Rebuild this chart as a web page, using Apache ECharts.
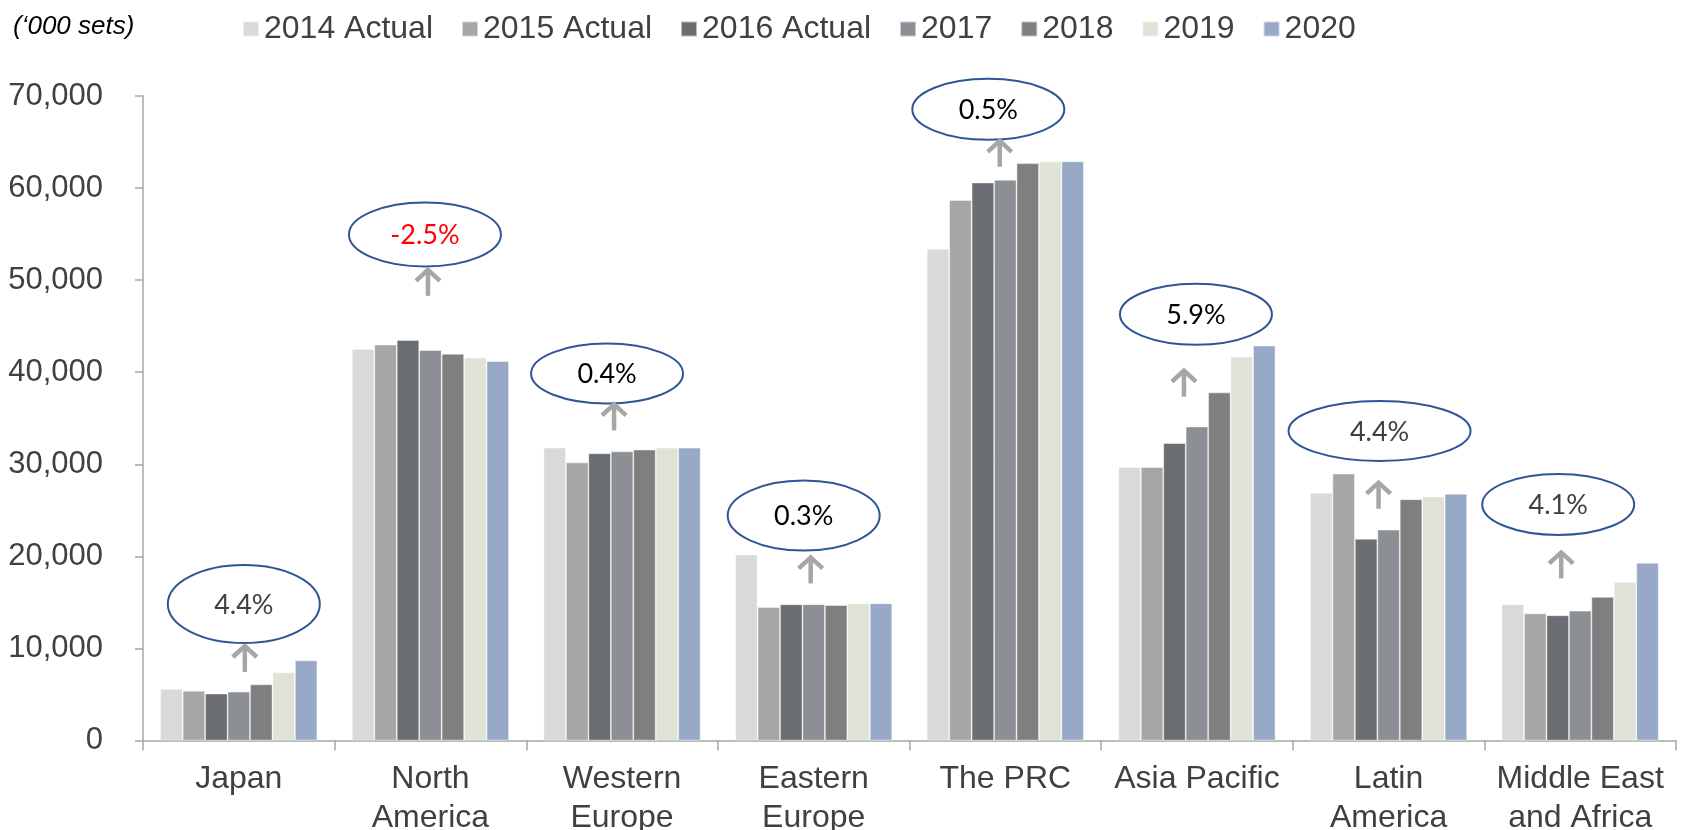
<!DOCTYPE html>
<html>
<head>
<meta charset="utf-8">
<script src="https://cdn.jsdelivr.net/npm/echarts@6/dist/echarts.min.js"></script>
<style>
  html, body { margin: 0; padding: 0; background: #ffffff; }
  #chart { width: 1686px; height: 830px; }
</style>
</head>
<body>
<div id="chart"></div>
<script>
// ---- data ----
const categories = ['Japan', 'North\nAmerica', 'Western\nEurope', 'Eastern\nEurope', 'The PRC', 'Asia Pacific', 'Latin\nAmerica', 'Middle East\nand Africa'];
const seriesNames = ['2014 Actual', '2015 Actual', '2016 Actual', '2017', '2018', '2019', '2020'];
const v2014 = [5600, 42500, 31800, 20200, 53400, 29700, 26900, 14800];
const v2015 = [5400, 43000, 30200, 14500, 58700, 29700, 29000, 13800];
const v2016 = [5100, 43500, 31200, 14800, 60600, 32300, 21900, 13600];
const v2017 = [5300, 42400, 31400, 14800, 60900, 34100, 22900, 14100];
const v2018 = [6100, 42000, 31600, 14700, 62700, 37800, 26200, 15600];
const v2019 = [7400, 41600, 31800, 14900, 62900, 41700, 26500, 17200];
const v2020 = [8700, 41200, 31800, 14900, 62900, 42900, 26800, 19300];
const growthLabels = ['4.4%', '-2.5%', '0.4%', '0.3%', '0.5%', '5.9%', '4.4%', '4.1%'];
const yTicks = [0, 10000, 20000, 30000, 40000, 50000, 60000, 70000];

// ---- styling / callout layout ----
const seriesColors = ['#D9D9D9', '#A6A6A6', '#6A6D72', '#8C8F93', '#7F7F7F', '#DFE2D6', '#98A9C7'];
const growthColors = ['#404040', '#FF0000', '#000000', '#000000', '#000000', '#000000', '#404040', '#404040'];
const calloutLayout = {
  ellipseY: [14830, 54955, 39852, 24424, 68557, 46284, 33626, 25641],
  arrowTopY: [10376, 51228, 36614, 19991, 65243, 40276, 28107, 20534],
  ellipseDx: [5, -5.5, -15, -10, -17, -1, -9, -22],
  arrowDx: [6, -2.5, -8, -3, -5.6, -13, -10, -19],
  rx: [76, 76, 76, 76, 76, 76, 91, 76],
  ry: [39, 32, 30, 35, 30.5, 30.5, 30, 30.5]
};

const allValues = [v2014, v2015, v2016, v2017, v2018, v2019, v2020];
const chart = echarts.init(document.getElementById('chart'), null, { renderer: 'canvas' });

const barSeries = seriesNames.map((name, k) => ({
  name: name,
  type: 'bar',
  data: allValues[k],
  barGap: '0%',
  barCategoryGap: '18%',
  itemStyle: { color: seriesColors[k], borderColor: 'rgba(255,255,255,0.55)', borderWidth: 0.8 },
  emphasis: { disabled: true }
}));

const calloutSeries = {
  type: 'custom',
  name: 'callouts',
  clip: false,
  z: 10,
  silent: true,
  data: categories.map((c, i) => [i]),
  renderItem: function (params, api) {
    const i = api.value(0);
    const e = api.coord([i, calloutLayout.ellipseY[i]]);
    const a = api.coord([i, calloutLayout.arrowTopY[i]]);
    const cx = e[0] + calloutLayout.ellipseDx[i];
    const cy = e[1];
    const ax = a[0] + calloutLayout.arrowDx[i];
    const ay = a[1];
    const arrowColor = '#A6A6A6';
    return {
      type: 'group',
      children: [
        { type: 'ellipse', shape: { cx: cx, cy: cy, rx: calloutLayout.rx[i], ry: calloutLayout.ry[i] },
          style: { fill: '#ffffff', stroke: '#2F5597', lineWidth: 2 } },
        { type: 'text', x: cx, y: cy + 1,
          style: { text: growthLabels[i], fill: growthColors[i], fontSize: 27, fontFamily: 'Lato',
                   align: 'center', verticalAlign: 'middle', textAlign: 'center', textVerticalAlign: 'middle' } },
        { type: 'line', shape: { x1: ax, y1: ay + 1, x2: ax, y2: ay + 27 },
          style: { stroke: arrowColor, lineWidth: 4.5 } },
        { type: 'polyline', shape: { points: [[ax - 12, ay + 12], [ax, ay + 1], [ax + 12, ay + 12]] },
          style: { stroke: arrowColor, lineWidth: 4.5, fill: null } }
      ]
    };
  }
};

const option = {
  animation: false,
  backgroundColor: '#ffffff',
  title: {
    text: '(\u2018000 sets)',
    left: 8,
    top: 9,
    textStyle: { fontFamily: 'Liberation Sans', fontStyle: 'italic', fontWeight: 'normal', fontSize: 26, color: '#000000' }
  },
  legend: {
    data: seriesNames,
    left: 237,
    top: 8,
    icon: 'rect',
    itemWidth: 16,
    itemHeight: 15,
    itemGap: 28,
    selectedMode: false,
    textStyle: { fontFamily: 'Liberation Sans', fontSize: 32, color: '#404040' }
  },
  grid: { left: 143, right: 10, top: 96, bottom: 89.5, containLabel: false, outerBoundsMode: 'none' },
  xAxis: {
    type: 'category',
    data: categories,
    boundaryGap: true,
    axisLine: { lineStyle: { color: '#A6A6A6', width: 1.5 } },
    axisTick: { show: true, length: 10, lineStyle: { color: '#A6A6A6', width: 1.5 } },
    axisLabel: { interval: 0, fontFamily: 'Liberation Sans', fontSize: 32, lineHeight: 39, color: '#404040', margin: 19 },
    splitLine: { show: false }
  },
  yAxis: {
    type: 'value',
    min: yTicks[0],
    max: yTicks[yTicks.length - 1],
    interval: yTicks[1] - yTicks[0],
    axisLine: { show: true, lineStyle: { color: '#A6A6A6', width: 1.5 } },
    axisTick: { show: true, length: 8, lineStyle: { color: '#A6A6A6', width: 1.5 } },
    axisLabel: {
      fontFamily: 'Liberation Sans', fontSize: 31, color: '#404040', margin: 40,
      formatter: function (v) { return v.toLocaleString('en-US'); }
    },
    splitLine: { show: false }
  },
  series: barSeries.concat([calloutSeries])
};
chart.setOption(option);
</script>
</body>
</html>
